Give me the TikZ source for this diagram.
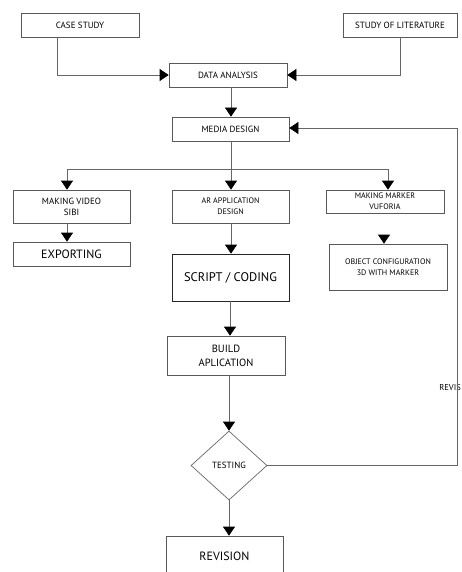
\documentclass[tikz,border=0pt]{standalone}
\usepackage{fontspec}
\setmainfont{PT Sans}
\usetikzlibrary{arrows.meta,shapes.geometric}
\tikzset{
  box/.style={draw=black!65, line width=0.7pt, rectangle, inner sep=1pt, align=center, font=\fontsize{8.5}{10}\selectfont},
  flow/.style={draw=black!60, line width=0.7pt},
  arr/.style={flow, -{Triangle[width=12pt,length=9pt,color=black,fill=black]}}
}
\begin{document}
\begin{tikzpicture}[x=1pt,y=-1pt]
\useasboundingbox (0,0) rectangle (462,572);
\clip (0,0) rectangle (462,572);
\node[box, minimum width=118pt, minimum height=24pt, font=\fontsize{9}{10}\selectfont] (cs) at (80,25) {CASE STUDY};
\node[box, minimum width=114pt, minimum height=24pt, font=\fontsize{9}{10}\selectfont] (lit) at (400,25) {STUDY OF LITERATURE};
\node[box, minimum width=118pt, minimum height=24pt, font=\fontsize{9}{10}\selectfont] (da) at (228,75) {DATA ANALYSIS};
\node[box, minimum width=117pt, minimum height=24pt, font=\fontsize{9}{10}\selectfont] (md) at (230.5,129) {MEDIA DESIGN};
\node[box, minimum width=117pt, minimum height=33pt, font=\fontsize{9}{11}\selectfont] (mv) at (71.5,206.5) {MAKING VIDEO\\SIBI};
\node[box, minimum width=117pt, minimum height=33pt, font=\fontsize{8}{11}\selectfont] (ar) at (230.5,206.5) {AR APPLICATION\\DESIGN};
\node[box, minimum width=118pt, minimum height=23pt, font=\fontsize{8}{11}\selectfont] (mm) at (385,201.5) {MAKING MARKER\\VUFORIA};
\node[box, minimum width=117pt, minimum height=24pt, font=\fontsize{12}{13}\selectfont] (exp) at (71.5,254) {EXPORTING};
\node[box, minimum width=117pt, minimum height=47pt, font=\fontsize{12.5}{14}\selectfont, draw=black!85] (sc) at (230.5,277.5) {SCRIPT / CODING};
\node[box, minimum width=118pt, minimum height=46pt, font=\fontsize{8}{11}\selectfont] (oc) at (388,267) {OBJECT CONFIGURATION\\3D WITH MARKER};
\node[box, minimum width=118pt, minimum height=39pt, font=\fontsize{10.5}{14}\selectfont] (build) at (226,355.5) {BUILD\\APLICATION};
\node[draw=black!60, line width=0.7pt, diamond, minimum width=76pt, minimum height=69pt, inner sep=0pt, font=\fontsize{9}{10}\selectfont] (test) at (229,465.5) {TESTING};
\node[box, minimum width=117pt, minimum height=40pt, font=\fontsize{12}{13}\selectfont] (rev) at (224.5,556) {REVISION};
\node[anchor=east, inner sep=0pt, font=\fontsize{8.5}{10}\selectfont] (revlbl) at (461,388) {REVIS};
% connectors
\coordinate (c1) at (57,75);
\coordinate (c2) at (400,75);
\draw[arr] (cs.south -| c1) -- (c1) -- (da.west);
\draw[arr] (lit.south -| c2) -- (c2) -- (da.east);
\coordinate (x1) at (231,0);
\draw[arr] (da.south -| x1) -- (md.north -| x1);
\coordinate (br) at (231,169);
\coordinate (bl) at (67,169);
\coordinate (bm) at (388,169);
\draw[flow] (md.south -| br) -- (br);
\draw[arr] (br) -- (bl) -- (mv.north -| bl);
\draw[arr] (br) -- (ar.north -| br);
\draw[arr] (br) -- (bm) -- (mm.north -| bm);
\draw[arr] (mv.south -| bl) -- (exp.north -| bl);
\draw[arr] (ar.south -| br) -- (sc.north -| br);
\coordinate (ft) at (384,234.6);
\draw[arr] (ft) -- (oc.north -| ft);
\coordinate (x2) at (230,0);
\draw[arr] (sc.south -| x2) -- (build.north -| x2);
\draw[arr] (build.south -| test.north) -- (test.north);
\draw[arr] (test.south) -- (rev.north -| test.south);
\coordinate (r1) at (457,465.5);
\coordinate (r2) at (457,128);
\draw[arr] (test.east) -- (r1) -- (r2) -- (md.east |- r2);
\end{tikzpicture}
\end{document}
